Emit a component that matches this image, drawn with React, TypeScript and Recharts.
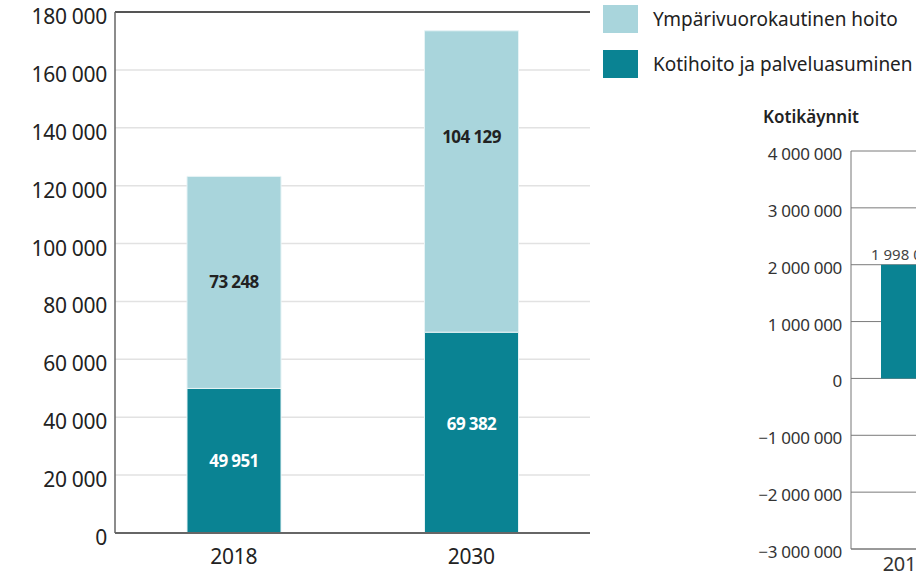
import React from "react";
import { BarChart, Bar, XAxis, YAxis, CartesianGrid, Legend, LabelList, ReferenceLine } from "recharts";

const years = ["2018", "2030"];
const kotihoito = [49951, 69382];
const ymparivuorokautinen = [73248, 104129];
const careTicks = [0, 20000, 40000, 60000, 80000, 100000, 120000, 140000, 160000, 180000];

const visitYears = ["2015"];
const visits = [1998000];
const visitTicks = [-3000000, -2000000, -1000000, 0, 1000000, 2000000, 3000000, 4000000];

const careData = years.map((year, i) => ({
  year,
  koti: kotihoito[i],
  ympari: ymparivuorokautinen[i],
}));

const visitData = visitYears.map((year, i) => ({ year, visits: visits[i] }));

const DARK = "#0a8393";
const LIGHT = "#a9d5dc";
const FONT = "'Noto Sans', sans-serif";

const fmt = (n: number) => {
  const s = String(Math.abs(n)).replace(/\B(?=(\d{3})+(?!\d))/g, " ");
  return n < 0 ? "\u2212" + s : s;
};

const CareYTick = ({ x, y, payload }: any) => (
  <text x={x} y={y} dy={12} textAnchor="end" fill="#222" fontSize={21} letterSpacing={-0.3} fontFamily={FONT}>
    {fmt(payload.value)}
  </text>
);

const CareXTick = ({ x, y, payload }: any) => (
  <text x={x} y={y} dy={31} textAnchor="middle" fill="#222" fontSize={21} letterSpacing={-0.3} fontFamily={FONT}>
    {payload.value}
  </text>
);

const VisitYTick = ({ x, y, payload }: any) => (
  <text x={x} y={y} dy={9} textAnchor="end" fill="#333" fontSize={17} letterSpacing={-0.3} fontFamily={FONT}>
    {fmt(payload.value)}
  </text>
);

const VisitXTick = ({ x, y, payload }: any) => (
  <text x={x} y={y} dy={22} textAnchor="middle" fill="#333" fontSize={20} letterSpacing={-0.3} fontFamily={FONT}>
    {payload.value}
  </text>
);

// label sits in the middle of a segment, but no further than `cap` px below its top
const segmentLabel = (color: string, cap: number) => (props: any) => {
  const { x, y, width, height, value } = props;
  const cy = Number(y) + Math.min(Number(height) / 2, cap);
  return (
    <text
      x={Number(x) + Number(width) / 2}
      y={cy}
      dy={6}
      textAnchor="middle"
      fill={color}
      fontSize={17}
      fontWeight={700}
      letterSpacing={-0.6}
      fontFamily={FONT}
    >
      {fmt(value)}
    </text>
  );
};

const visitLabel = (props: any) => {
  const { x, y, width, value } = props;
  return (
    <text x={Number(x) + Number(width) / 2} y={Number(y)} dy={-5} textAnchor="middle" fill="#444" fontSize={15} fontFamily={FONT}>
      {fmt(value)}
    </text>
  );
};

const LegendBox = ({ payload }: any) => {
  const items = [...(payload || [])].reverse();
  return (
    <div style={{ display: "flex", flexDirection: "column", gap: 17, fontFamily: FONT }}>
      {items.map((item: any) => (
        <div key={item.value} style={{ display: "flex", alignItems: "center", height: 28 }}>
          <span style={{ display: "inline-block", width: 35, height: 28, background: item.color }} />
          <span style={{ marginLeft: 15, fontSize: 19, lineHeight: "28px", color: "#222", whiteSpace: "nowrap" }}>
            {item.value}
          </span>
        </div>
      ))}
    </div>
  );
};

export default function App() {
  return (
    <div
      style={{
        position: "absolute",
        left: 0,
        top: 0,
        width: 916,
        height: 572,
        overflow: "hidden",
        background: "#fff",
        fontFamily: FONT,
      }}
    >
      <BarChart width={916} height={572} data={careData} margin={{ top: 12, right: 326, left: 0, bottom: 0 }}>
        <CartesianGrid vertical={false} stroke="#e2e2e2" strokeWidth={1.5} />
        <XAxis
          dataKey="year"
          height={39}
          tickLine={false}
          tickSize={0}
          tickMargin={0}
          axisLine={{ stroke: "#666", strokeWidth: 2 }}
          tick={<CareXTick />}
        />
        <YAxis
          width={115}
          domain={[0, 180000]}
          ticks={careTicks}
          interval={0}
          tickLine={false}
          tickSize={0}
          tickMargin={8}
          axisLine={{ stroke: "#666", strokeWidth: 1.5 }}
          tick={<CareYTick />}
        />
        <ReferenceLine y={180000} stroke="#555" strokeWidth={2} />
        <Legend
          layout="vertical"
          align="center"
          verticalAlign="middle"
          wrapperStyle={{ left: 603, top: 5, width: 320 }}
          content={<LegendBox />}
        />
        <Bar
          dataKey="koti"
          name="Kotihoito ja palveluasuminen"
          stackId="a"
          fill={DARK}
          stroke="#e6f3f5"
          strokeWidth={1}
          barSize={94}
          isAnimationActive={false}
        >
          <LabelList dataKey="koti" content={segmentLabel("#fff", 92)} />
        </Bar>
        <Bar
          dataKey="ympari"
          name="Ympärivuorokautinen hoito"
          stackId="a"
          fill={LIGHT}
          stroke="#e6f3f5"
          strokeWidth={1}
          barSize={94}
          isAnimationActive={false}
        >
          <LabelList dataKey="ympari" content={segmentLabel("#222", 106)} />
        </Bar>
      </BarChart>

      <div
        style={{
          position: "absolute",
          left: 763,
          top: 105,
          fontSize: 17,
          fontWeight: 600,
          color: "#222",
          whiteSpace: "nowrap",
        }}
      >
        Kotikäynnit
      </div>

      <div style={{ position: "absolute", left: 740, top: 0 }}>
        <BarChart width={300} height={572} data={visitData} margin={{ top: 151, right: 81, left: 0, bottom: 0 }}>
          <CartesianGrid vertical={false} stroke="#7a7a7a" strokeWidth={1} />
          <XAxis
            dataKey="year"
            height={23}
            tickLine={false}
            tickSize={0}
            tickMargin={0}
            axisLine={{ stroke: "#777", strokeWidth: 1 }}
            tick={<VisitXTick />}
          />
          <YAxis
            width={111}
            domain={[-3000000, 4000000]}
            ticks={visitTicks}
            interval={0}
            tickLine={false}
            tickSize={0}
            tickMargin={9}
            axisLine={{ stroke: "#777", strokeWidth: 1 }}
            tick={<VisitYTick />}
          />
          <Bar dataKey="visits" fill={DARK} barSize={48} isAnimationActive={false}>
            <LabelList dataKey="visits" content={visitLabel} />
          </Bar>
        </BarChart>
      </div>
    </div>
  );
}
